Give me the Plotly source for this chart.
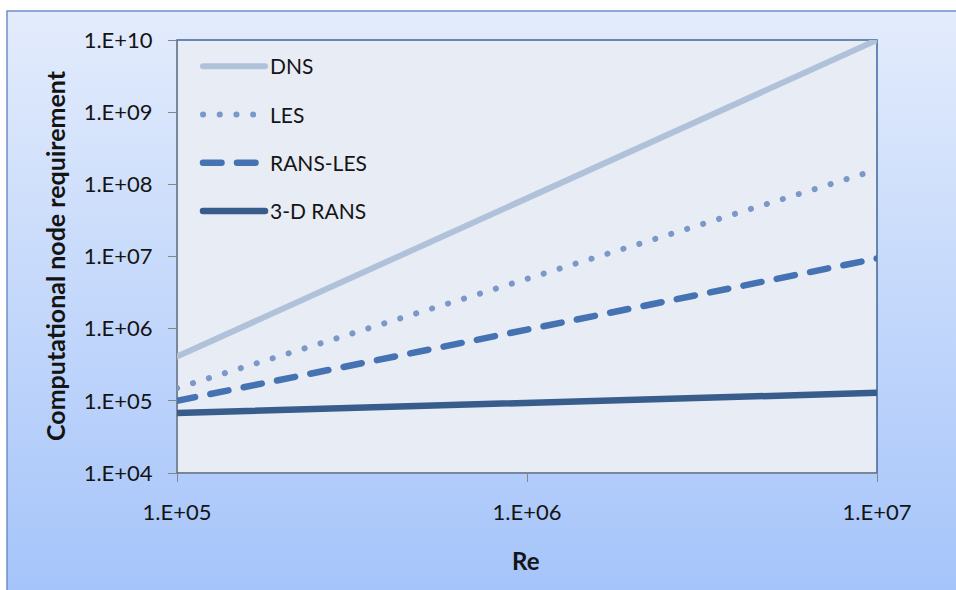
import base64
import plotly.graph_objects as go

# Reynolds number and node-count estimates for each modelling approach
re_values = [1e5, 1e6, 1e7]
dns_nodes = [4.1e5, 6.3e7, 1.0e10]
les_nodes = [1.5e5, 4.9e6, 1.6e8]
rans_les_nodes = [1.0e5, 9.7e5, 9.4e6]
rans_3d_nodes = [6.8e4, 9.4e4, 1.29e5]

series_names = ["DNS", "LES", "RANS-LES", "3-D RANS"]

x_tick_vals = [1e5, 1e6, 1e7]
x_tick_text = ["1.E+05", "1.E+06", "1.E+07"]
y_tick_vals = [1e4, 1e5, 1e6, 1e7, 1e8, 1e9, 1e10]
y_tick_text = ["1.E+04", "1.E+05", "1.E+06", "1.E+07", "1.E+08", "1.E+09", "1.E+10"]

# Figure geometry (pixels)
W, H = 956, 590
L, R, T, B = 177, 79, 40, 117
PW, PH = W - L - R, H - T - B


def px(x):
    return (x - L) / PW


def py(y):
    return (H - B - y) / PH


FONT = "Lato, 'Open Sans', sans-serif"
TEXT = "#141414"
AXIS = "#868686"

styles = [
    dict(color="#b0c2da", width=6, dash="solid"),
    dict(color="#7a98c8", width=6, dash="0.1px,16.6px"),
    dict(color="#4472b2", width=6.5, dash="18.5px,15.5px"),
    dict(color="#385d8c", width=6.5, dash="solid"),
]
series = [dns_nodes, les_nodes, rans_les_nodes, rans_3d_nodes]

fig = go.Figure()
for name, ys, st in zip(series_names, series, styles):
    fig.add_trace(go.Scatter(
        x=re_values, y=ys, name=name, mode="lines",
        line=st, legendgroup=name,
    ))

# Gradient panel behind the chart
svg = (
    "<svg xmlns='http://www.w3.org/2000/svg' width='100' height='100' "
    "preserveAspectRatio='none'><defs><linearGradient id='g' x1='0' y1='0' "
    "x2='0' y2='1'><stop offset='0' stop-color='#e3ecfc'/>"
    "<stop offset='1' stop-color='#a5c4fa'/></linearGradient></defs>"
    "<rect width='100' height='100' fill='url(#g)'/></svg>"
)
svg_uri = "data:image/svg+xml;base64," + base64.b64encode(svg.encode()).decode()

fig.add_layout_image(dict(
    source=svg_uri, xref="paper", yref="paper",
    x=px(7), y=py(11), sizex=px(W + 5) - px(7), sizey=py(11) - py(H + 5),
    xanchor="left", yanchor="top", sizing="stretch", layer="below",
))

shapes = [
    # outer panel border
    dict(type="rect", xref="paper", yref="paper",
         x0=px(7), x1=px(W + 5), y0=py(H + 5), y1=py(11),
         line=dict(color="#6f8fc6", width=1.5), fillcolor="rgba(0,0,0,0)",
         layer="below"),
    # plot area
    dict(type="rect", xref="paper", yref="paper",
         x0=0, x1=1, y0=0, y1=1,
         line=dict(color="#3f659b", width=1.5), fillcolor="#e8ecf4",
         layer="below"),
]

annotations = [
    dict(text="<b>Computational node requirement</b>", xref="paper", yref="paper",
         x=px(55), y=py(256), textangle=-90, showarrow=False,
         xanchor="center", yanchor="middle",
         font=dict(family=FONT, size=25, color=TEXT)),
    dict(text="<b>Re</b>", xref="paper", yref="paper",
         x=px(526), y=py(560), showarrow=False,
         xanchor="center", yanchor="middle",
         font=dict(family=FONT, size=24, color=TEXT)),
]

axis_common = dict(
    type="log", showgrid=False, zeroline=False,
    showline=True, linecolor=AXIS, linewidth=1,
    ticks="outside", ticklen=8, tickcolor=AXIS, tickwidth=1,
    tickfont=dict(family=FONT, size=22, color=TEXT),
)

fig.update_layout(
    width=W, height=H,
    margin=dict(l=L, r=R, t=T, b=B, pad=0),
    paper_bgcolor="white", plot_bgcolor="#e8ecf4",
    shapes=shapes, annotations=annotations,
    xaxis=dict(axis_common, range=[5, 7], tickvals=x_tick_vals,
               ticktext=x_tick_text, ticklabelstandoff=12),
    yaxis=dict(axis_common, range=[4, 10], tickvals=y_tick_vals,
               ticktext=y_tick_text, ticklabelstandoff=11),
    legend=dict(
        x=px(198), y=py(46), xanchor="left", yanchor="top",
        bgcolor="rgba(0,0,0,0)", borderwidth=0,
        font=dict(family=FONT, size=21, color=TEXT),
        tracegroupgap=18, itemwidth=62,
    ),
    showlegend=True,
)

# rounded ends on line strokes (dots and dashes)
post = (
    "var s=document.createElement('style');"
    "s.textContent='.js-line{stroke-linecap:round;}';"
    "document.head.appendChild(s);"
)

fig.write_html("out.html", post_script=post)
